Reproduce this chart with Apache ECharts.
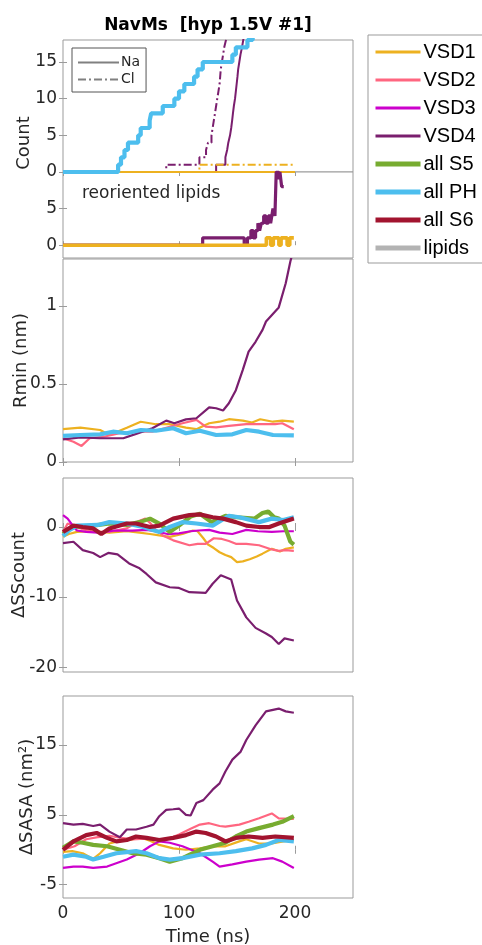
<!DOCTYPE html>
<html><head><meta charset="utf-8">
<script src="https://cdn.jsdelivr.net/npm/echarts@6/dist/echarts.min.js"></script>
<style>html,body{margin:0;padding:0;background:#fff}#c{width:482px;height:945px}</style>
</head><body><div id="c"></div><script>
// ---------- tick labels / categories ----------
const timeTicks = [0, 100, 200];
const countTicks = [0, 5, 10, 15];
const lipidTicks = [0, 5];
const rminTicks = [0, 0.5, 1];
const ssTicks = [-20, -10, 0];
const sasaTicks = [-5, 5, 15];
const legendNames = ['VSD1', 'VSD2', 'VSD3', 'VSD4', 'all S5', 'all PH', 'all S6', 'lipids'];
const ionNames = ['Na', 'Cl'];

// ---------- Count panel (ions), [time ns, count] ----------
const countPH_Na = [[0,0],[47.5,1],[50,2],[53,3],[56,4],[64.8,5],[67,6],[74.7,7],[76,8],[86,9],[96,10],[100,11],[104.6,12],[113,13],[116,14],[120.5,15],[146,16],[149,17],[159,18],[163.5,19],[166,20]];
const countVSD4_Cl = [[0,0],[89,1],[117.6,2],[123.3,3],[125,4],[128,5],[129,6],[130,7],[131,8],[132,9],[133,10],[134,11],[135,12],[135.5,13],[136,14],[137,15],[138,16],[139,17],[140.5,18],[141.5,19],[143,20]];
const countVSD4_Na = [[0,0],[132,1],[140,2],[141.5,3],[142.5,4],[144,5],[145,6],[145.8,7],[146.5,8],[147.3,9],[148.3,10],[149,11],[149.7,12],[150.4,13],[151,14],[152,15],[153,16],[154.3,17],[155.4,18],[156.5,19],[158,20]];
const countVSD1_Na = [[0,0],[200,0]];
const countVSD1_Cl = [[0,0],[117.6,1],[200,1]];

// ---------- reoriented lipids ----------
const lipidVSD4 = [[0,0],[120.4,1],[156.2,0],[159,1],[162,2],[164,1],[166,2],[168,3],[169.5,2],[171,3],[173,4],[175,3],[177,4],[179,3],[180,4],[181,5],[182.7,4],[183.8,10],[186,9],[187,10],[188.5,8],[190.3,8]];
const lipidVSD1 = [[0,0],[175.3,1],[179,0],[181.3,1],[186.1,0],[188,1],[193.2,0],[195.5,1],[199,1]];

// ---------- Rmin (nm) ----------
const rminVSD1 = [[0,0.21],[15,0.22],[32,0.205],[40,0.173],[55,0.22],[67,0.258],[80,0.242],[92,0.242],[106,0.22],[115,0.21],[126,0.248],[135,0.258],[143,0.274],[155,0.265],[163,0.253],[170,0.274],[181,0.258],[189,0.265],[199,0.258]];
const rminVSD2 = [[0,0.152],[9,0.13],[16,0.103],[23,0.152],[35,0.162],[49,0.184],[63,0.194],[77,0.194],[92,0.226],[103,0.248],[115,0.27],[123,0.226],[132,0.222],[143,0.231],[158,0.242],[175,0.242],[183,0.242],[189,0.248],[199,0.21]];
const rminVSD4 = [[0,0.145],[15,0.158],[32,0.152],[52,0.152],[63,0.18],[77,0.216],[89,0.265],[96,0.248],[106,0.273],[115,0.28],[126,0.35],[132,0.344],[138,0.33],[143,0.376],[149,0.46],[155,0.59],[160,0.707],[166,0.77],[172,0.846],[175,0.9],[186,0.99],[192,1.145],[196,1.284],[198,1.34]];
const rminPH = [[0,0.167],[15,0.173],[32,0.177],[43,0.194],[55,0.184],[67,0.205],[80,0.2],[95,0.216],[106,0.184],[118,0.2],[132,0.173],[146,0.177],[158,0.205],[169,0.194],[181,0.173],[199,0.17]];

// ---------- ΔSScount ----------
const ssVSD1 = [[0,-1.4],[5,-1.0],[12,-0.7],[26,-0.6],[40,-0.8],[55,-0.6],[66,-0.8],[75,-1.0],[83,-1.2],[92,-1.4],[103,-1.0],[112,-0.5],[116,-0.6],[121,-1.6],[125,-2.5],[130,-3.0],[135,-3.6],[140,-4.0],[145,-4.3],[150,-5.0],[155,-4.9],[161,-4.6],[167,-4.2],[172,-3.8],[180,-3.1],[187,-3.5],[192,-3.1],[199,-2.9]];
const ssVSD2 = [[0,-0.7],[4,0.5],[10,0.2],[17,-0.3],[26,-0.7],[40,-0.7],[55,-0.2],[66,0.9],[71,1.2],[75,0.6],[80,-0.4],[86,-1.2],[95,-1.9],[109,-2.6],[116,-2.4],[123,-2.4],[130,-1.6],[137,-1.7],[143,-2.0],[149,-2.4],[158,-2.4],[169,-2.6],[180,-3.2],[186,-3.4],[192,-3.3],[199,-3.4]];
const ssVSD3 = [[0,1.7],[4,1.2],[8,0.3],[12,-0.5],[20,-0.7],[30,-0.8],[45,-0.5],[60,-0.5],[72,-0.4],[80,-0.6],[90,-1.0],[100,-0.9],[110,-0.6],[117,-0.5],[126,-0.4],[135,-0.8],[146,-1.0],[158,-0.4],[168,-0.6],[180,-0.7],[190,-0.6],[199,-0.6]];
const ssVSD4 = [[0,-2.3],[9,-2.1],[17,-3.3],[26,-3.7],[32,-4.3],[39,-3.7],[47,-3.9],[57,-5.2],[66,-5.9],[72,-6.7],[80,-7.9],[92,-8.6],[100,-8.7],[109,-9.3],[123,-9.4],[129,-8.1],[136,-6.9],[145,-7.5],[150,-10.5],[158,-12.9],[166,-14.4],[175,-15.2],[180,-15.7],[186,-16.7],[191,-15.9],[199,-16.2]];
const ssS5 = [[0,-1.0],[8,0],[26,0.2],[40,0.5],[55,0.3],[66,0.7],[75,1.2],[83,0.5],[92,-0.7],[100,0.2],[110,1.5],[118,1.9],[128,0.7],[140,1.6],[150,1.4],[165,1.2],[172,2.0],[177,2.2],[182,1.4],[186,1.2],[191,0.2],[196,-2.1],[199,-2.5]];
const ssPH = [[0,-1.3],[5,-0.5],[12,0.2],[30,0.3],[40,0.7],[55,0.5],[69,0],[83,-0.7],[92,0],[103,0.7],[115,0.5],[129,0.2],[143,1.6],[152,1.4],[169,0.7],[180,1.2],[190,1.0],[199,1.4]];
const ssS6 = [[0,-0.7],[9,0.2],[17,0],[26,-0.2],[33,-1.0],[40,-0.2],[55,0.5],[63,0.5],[75,0],[83,0.2],[95,1.2],[109,1.7],[118,1.8],[129,1.4],[138,1.2],[149,0.7],[158,0.2],[169,0],[178,0],[186,0.5],[199,1.2]];

// ---------- ΔSASA (nm²) ----------
const sasaVSD1 = [[0,-0.3],[8,-0.2],[17,-0.5],[26,-1.3],[32,-0.5],[40,0.9],[50,1.3],[60,1.5],[68,1.7],[75,1.3],[83,0.7],[95,0.2],[106,0],[118,0.2],[129,0.5],[140,0.5],[152,1.2],[158,1.5],[169,0.9],[180,0.9],[190,1.2],[199,1.4]];
const sasaVSD2 = [[0,0],[10,0.5],[20,1.5],[30,1.8],[40,2.0],[50,1.7],[60,1.5],[70,1.6],[80,1.5],[90,1.5],[100,2.2],[110,3.0],[118,3.6],[126,3.8],[135,3.4],[140,3.3],[152,3.6],[160,4.0],[169,4.5],[180,5.2],[186,4.5],[199,4.4]];
const sasaVSD3 = [[0,-2.6],[9,-2.4],[17,-2.4],[26,-2.6],[38,-2.4],[55,-1.4],[66,-0.5],[75,0.5],[83,1.2],[92,1.0],[103,0.5],[118,-0.5],[129,-1.7],[135,-2.4],[146,-2.1],[158,-1.7],[169,-1.4],[181,-1.2],[189,-1.7],[199,-2.6]];
const sasaVSD4 = [[0,3.8],[9,3.6],[17,3.7],[26,3.4],[32,3.6],[40,2.6],[49,1.8],[55,2.9],[63,2.9],[72,3.3],[78,3.6],[83,4.8],[89,5.7],[95,5.8],[100,5.9],[106,5.0],[110,4.9],[115,6.7],[121,7.1],[129,8.6],[135,9.5],[140,11.2],[146,12.9],[153,14.0],[158,15.7],[166,17.8],[175,19.8],[186,20.2],[192,19.8],[199,19.6]];
const sasaS5 = [[0,0.3],[9,1.2],[17,1.0],[26,0.7],[38,0.5],[49,0],[60,-0.5],[72,-0.7],[83,-1.2],[92,-1.7],[103,-1.2],[112,-0.5],[118,0],[129,0.5],[140,1.0],[149,1.9],[158,2.6],[169,3.1],[181,3.6],[189,4.0],[199,4.8]];
const sasaPH = [[0,-1.0],[9,-0.7],[20,-1.0],[26,-1.4],[35,-1.0],[46,-0.5],[63,-0.2],[72,-0.5],[83,-1.2],[92,-1.4],[103,-1.2],[118,-0.7],[135,-0.5],[149,-0.2],[163,0.2],[175,0.7],[186,1.4],[199,1.2]];
const sasaS6 = [[0,0],[9,1.2],[20,2.1],[29,2.4],[38,1.7],[46,1.2],[55,1.4],[63,1.9],[72,1.7],[83,1.4],[95,1.7],[106,2.1],[115,2.6],[123,2.4],[132,1.9],[140,1.2],[149,1.7],[160,1.9],[172,1.7],[183,1.9],[199,1.7]];

// ---------- styles ----------
const FONT = 'DejaVu Sans';
const TXT = '#262626';
const FRAME = '#9b9b9b';
const COL = {VSD1:'#EDB120', VSD2:'#FF6680', VSD3:'#CC00CC', VSD4:'#7A1E6E', S5:'#77AC30', PH:'#4DBEEE', S6:'#A2142F', lip:'#B3B3B3', ion:'#808080'};
const DASHDOT = [8, 3, 2, 3];

const grids = [
  {left:63, top:40,  width:290, height:132},
  {left:63, top:172, width:290, height:86},
  {left:63, top:259, width:290, height:203},
  {left:63, top:478, width:290, height:194},
  {left:63, top:696, width:290, height:202}
];
const yRange = [[0,18],[-1.75,10],[0,1.3],[-20.7,7],[-6.9,22]];
const yTickSets = [countTicks, lipidTicks, rminTicks, ssTicks, sasaTicks];
const yNames = ['', '', 'Rmin (nm)', '\u0394SScount', '\u0394SASA (nm\u00B2)'];
const yNameGaps = [0, 0, 33, 35, 27];

const labelStyle = {color: TXT, fontSize: 17, fontFamily: FONT};
const nameStyle = {color: TXT, fontSize: 18, fontFamily: FONT};
const tickStyle = {lineStyle: {color: FRAME, width: 1}};

const gridOpt = grids.map(g => Object.assign({show: true, borderColor: FRAME, borderWidth: 1, backgroundColor: '#fff', containLabel: false, outerBoundsMode: 'none'}, g));
gridOpt.push({left:63, top:40, width:290, height:206, show:false, containLabel: false, outerBoundsMode: 'none'});

const xAxes = [], yAxes = [];
for (let g = 0; g < 5; g++) {
  const xb = {type:'value', gridIndex:g, min:0, max:250, splitLine:{show:false}, axisLine:{show:false}};
  xAxes.push(Object.assign({}, xb, {
    position:'bottom',
    axisTick: Object.assign({show: g !== 0, inside:true, length:4, customValues: timeTicks}, tickStyle),
    axisLabel: Object.assign({show: g === 4, customValues: timeTicks, margin:7}, labelStyle),
    name: g === 4 ? 'Time (ns)' : '', nameLocation:'middle', nameGap:30, nameMoveOverlap: false, nameTextStyle: nameStyle
  }));
  xAxes.push(Object.assign({}, xb, {
    position:'top',
    axisTick: Object.assign({show: g !== 1, inside:true, length:4, customValues: timeTicks}, tickStyle),
    axisLabel: {show:false}
  }));
  const yb = {type:'value', gridIndex:g, min:yRange[g][0], max:yRange[g][1], splitLine:{show:false}, axisLine:{show:false}};
  yAxes.push(Object.assign({}, yb, {
    position:'left',
    axisTick: Object.assign({show:true, inside:true, length:4, customValues: yTickSets[g]}, tickStyle),
    axisLabel: Object.assign({show:true, customValues: yTickSets[g], margin:6}, labelStyle),
    name: yNames[g], nameLocation:'middle', nameGap: yNameGaps[g], nameMoveOverlap: false, nameTextStyle: nameStyle
  }));
  yAxes.push(Object.assign({}, yb, {
    position:'right',
    axisTick: Object.assign({show:true, inside:true, length:4, customValues: yTickSets[g]}, tickStyle),
    axisLabel: {show:false}
  }));
}
// name holder axes for "Count"
xAxes.push({type:'value', gridIndex:5, show:false, min:0, max:1});
yAxes.push({type:'value', gridIndex:5, min:0, max:1, axisLine:{show:false}, axisTick:{show:false}, axisLabel:{show:false}, splitLine:{show:false},
  name:'Count', nameLocation:'middle', nameGap:29.5, nameMoveOverlap: false, nameTextStyle: nameStyle});

function S(name, g, data, color, width, extra) {
  const ls = {color: color, width: width};
  if (extra && extra.dash) ls.type = extra.dash;
  const s = {type:'line', name: name, xAxisIndex: 2*g, yAxisIndex: 2*g, data: data, symbol:'none', showSymbol:false,
    silent:true, animation:false, clip:true, lineStyle: ls, itemStyle:{color: color}, emphasis:{disabled:true}};
  if (extra && extra.step) s.step = extra.step;
  return s;
}
const THIN = 2.2, THICK = 4.2;
const series = [
  S('VSD1', 2, rminVSD1, COL.VSD1, THIN),
  S('VSD2', 2, rminVSD2, COL.VSD2, THIN),
  S('VSD4', 2, rminVSD4, COL.VSD4, THIN),
  S('all PH', 2, rminPH, COL.PH, THICK),
  S('VSD1', 3, ssVSD1, COL.VSD1, THIN),
  S('VSD2', 3, ssVSD2, COL.VSD2, THIN),
  S('VSD3', 3, ssVSD3, COL.VSD3, THIN),
  S('VSD4', 3, ssVSD4, COL.VSD4, THIN),
  S('all S5', 3, ssS5, COL.S5, THICK),
  S('all PH', 3, ssPH, COL.PH, THICK),
  S('all S6', 3, ssS6, COL.S6, THICK),
  S('VSD1', 4, sasaVSD1, COL.VSD1, THIN),
  S('VSD2', 4, sasaVSD2, COL.VSD2, THIN),
  S('VSD3', 4, sasaVSD3, COL.VSD3, THIN),
  S('VSD4', 4, sasaVSD4, COL.VSD4, THIN),
  S('all S5', 4, sasaS5, COL.S5, THICK),
  S('all PH', 4, sasaPH, COL.PH, THICK),
  S('all S6', 4, sasaS6, COL.S6, THICK),
  S('VSD4 Cl count', 0, countVSD4_Cl, COL.VSD4, 2, {step:'end', dash: DASHDOT}),
  S('VSD4 Na count', 0, countVSD4_Na, COL.VSD4, 2, {step:'end'}),
  S('VSD1 Na count', 0, countVSD1_Na, COL.VSD1, 2, {step:'end'}),
  S('VSD1 Cl count', 0, countVSD1_Cl, COL.VSD1, 2, {step:'end', dash: DASHDOT}),
  S('PH Na count', 0, countPH_Na, COL.PH, THICK, {step:'end'}),
  S('VSD4 lipids', 1, lipidVSD4, COL.VSD4, 3.2, {step:'end'}),
  S('VSD1 lipids', 1, lipidVSD1, COL.VSD1, 3.6, {step:'end'}),
  S('lipids', 0, [], COL.lip, 5),
  S('Na', 0, [], COL.ion, 2),
  S('Cl', 0, [], COL.ion, 2, {dash: DASHDOT})
];

const thickNames = ['all S5', 'all PH', 'all S6', 'lipids'];
const legendData = legendNames.map(n => ({name: n, lineStyle: {width: thickNames.indexOf(n) >= 0 ? 5 : 3}}));

const option = {
  animation: false,
  backgroundColor: '#fff',
  title: [
    {text: 'NavMs  [hyp 1.5V #1]', left: 208, top: 17, padding: 0, textAlign: 'center',
     textStyle: {fontFamily: FONT, fontSize: 17, fontWeight: 'bold', color: '#000'}},
    {text: 'reoriented lipids', left: 82, top: 185, padding: 0,
     textStyle: {fontFamily: FONT, fontSize: 17, fontWeight: 'normal', color: TXT}}
  ],
  grid: gridOpt,
  xAxis: xAxes,
  yAxis: yAxes,
  legend: [
    {data: legendData, orient: 'vertical', left: 368, top: 35, padding: [7, 30, 5, 5],
     itemWidth: 45, itemHeight: 14, itemGap: 8, borderColor: FRAME, borderWidth: 1, backgroundColor: '#fff',
     itemStyle: {opacity: 0},
     textStyle: {fontFamily: 'Liberation Sans', fontSize: 20, lineHeight: 20, height: 20, color: '#000', padding: [0, 0, 0, -2]}},
    {data: ionNames, orient: 'vertical', left: 72, top: 48, padding: [7, 6, 5, 5],
     itemWidth: 41, itemHeight: 12, itemGap: 2, borderColor: '#555', borderWidth: 1, backgroundColor: '#fff',
     itemStyle: {opacity: 0},
     textStyle: {fontFamily: FONT, fontSize: 14, lineHeight: 15, color: TXT, padding: [0, 0, 0, -3]}}
  ],
  series: series
};
const chart = echarts.init(document.getElementById('c'), null, {renderer: 'canvas'});
chart.setOption(option);
</script></body></html>
